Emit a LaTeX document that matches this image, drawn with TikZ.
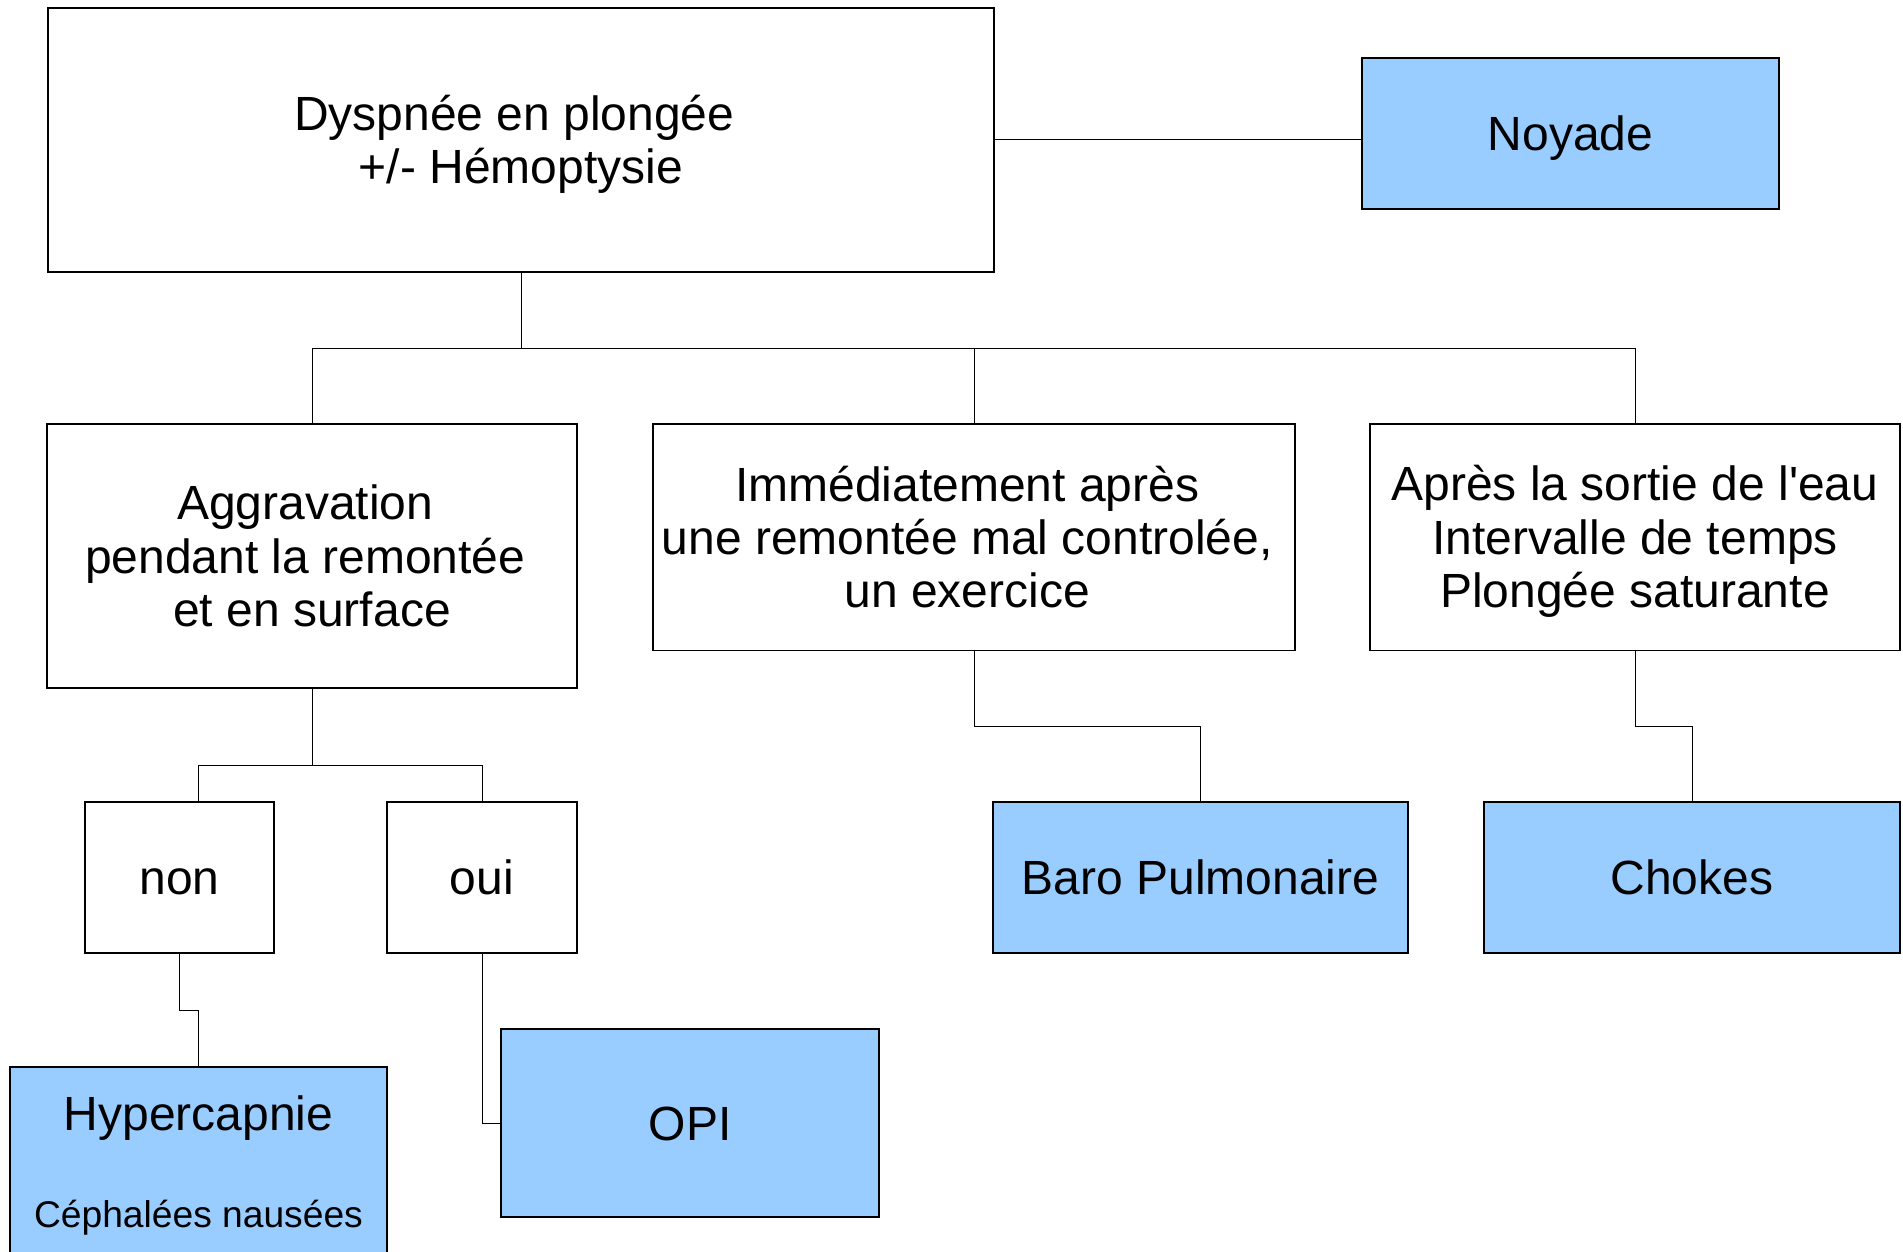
\documentclass[tikz,border=0pt]{standalone}
\usepackage{fontspec}
\setmainfont{Liberation Sans}
\usetikzlibrary{positioning}
\definecolor{myblue}{RGB}{153,204,255}
\newcommand{\rowstrut}{\rule[-4.7pt]{0pt}{26.7pt}}
\newcommand{\trail}{\kern0.278em}

\begin{document}
\begin{tikzpicture}[
   every node/.style   = {font=\fontsize{24}{26.7}\selectfont},
     questionNode/.style = {rectangle, draw, align=center, line width=0.6pt, inner sep=0pt, outer sep=0pt,
                            execute at end node=\rowstrut},
     diagNode/.style     = {questionNode, fill=myblue},
     myline/.style       = {line width=0.5pt}
]
    \useasboundingbox (0,0) rectangle (951.5pt,-626pt);

    \node[questionNode, minimum width=473pt, minimum height=132pt] (dyspnee) at (260.5pt,-70pt) {\rowstrut Dyspnée en plongée\trail\\+/- Hémoptysie};
    \node[diagNode, right=184pt of dyspnee, yshift=3.25pt, minimum width=208.5pt, minimum height=75.5pt] (noyade) {Noyade};

    \draw[myline] (dyspnee.east) -- (dyspnee.east -| noyade.west);

    % second row
    \node[questionNode, below=76pt of dyspnee, xshift=-104.5pt, minimum width=265pt, minimum height=132pt] (aggrav) {\rowstrut Aggravation\trail\\pendant la remontée\trail\\et en surface};
    \node[questionNode, below=76pt of dyspnee, xshift=226.5pt, minimum width=321pt, minimum height=113.25pt] (immed) {\rowstrut Immédiatement après\trail\\une remontée mal controlée,\trail\\un exercice\trail};
    \node[questionNode, below=76pt of dyspnee, xshift=557pt, minimum width=265pt, minimum height=113.25pt] (apres) {\rowstrut Après la sortie de l\textquotesingle eau\\Intervalle de temps\\Plongée saturante};

    \draw[myline] (dyspnee.south) -- ++(0,-38pt) -| (aggrav.north);
    \draw[myline] (dyspnee.south) -- ++(0,-38pt) -| (immed.north);
    \draw[myline] (dyspnee.south) -- ++(0,-38pt) -| (apres.north);

    \node[questionNode, below=57pt of aggrav, xshift=-66.25pt, minimum width=94.5pt, minimum height=75.5pt] (non) {non};
    \node[questionNode, below=57pt of aggrav, xshift=85pt, minimum width=95pt, minimum height=75.5pt] (oui) {oui};

    \node[diagNode, below=57pt of non, xshift=9.5pt, minimum width=188.5pt, inner ysep=9.5pt, text depth=20pt] (hyper) {\rowstrut Hypercapnie\\[21.8pt]{\fontsize{18.6}{21}\selectfont Céphalées nausées}};
    \node[diagNode, below=38pt of oui, xshift=104pt, minimum width=189pt, minimum height=94pt] (opi) {OPI};

    \draw[myline] (aggrav.south) -- ++(0,-38.5pt) -| (non.north -| hyper.north);
    \draw[myline] (aggrav.south) -- ++(0,-38.5pt) -| (oui.north);
    \draw[myline] (non.south) -- ++(0,-28.5pt) -| (hyper.north);
    \draw[myline] (oui.south) |- (opi.west);

    \node[diagNode, below=75.75pt of immed, xshift=113.25pt, minimum width=207.5pt, minimum height=75.5pt] (baro) {Baro Pulmonaire};
    \node[diagNode, below=75.75pt of apres, xshift=28.5pt, minimum width=208pt, minimum height=75.5pt] (chokes) {Chokes};

    \draw[myline] (immed.south) -- ++(0,-38pt) -| (baro.north);
    \draw[myline] (apres.south) -- ++(0,-38pt) -| (chokes.north);
\end{tikzpicture}
\end{document}
